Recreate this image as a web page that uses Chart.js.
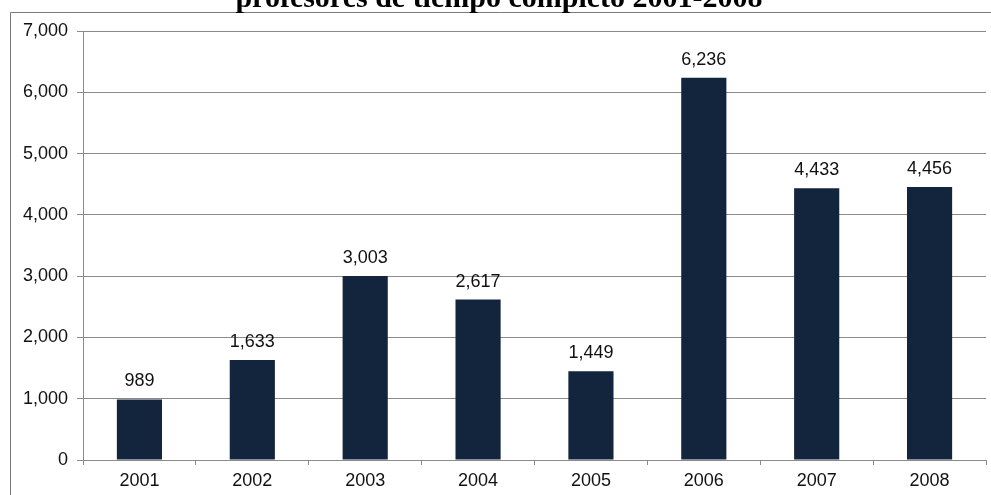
<!DOCTYPE html>
<html>
<head>
<meta charset="utf-8">
<script src="https://cdn.jsdelivr.net/npm/chart.js@4"></script>
<style>
  html, body { margin:0; padding:0; background:#fff; }
  #wrap { position:relative; width:991px; height:495px; }
</style>
</head>
<body>
<div id="wrap"><canvas id="chart" width="991" height="495"></canvas></div>
<script>
// data
const years  = ['2001','2002','2003','2004','2005','2006','2007','2008'];
const values = [989, 1633, 3003, 2617, 1449, 6236, 4433, 4456];
const title  = 'profesores de tiempo completo 2001-2008';

const fmt = v => v.toLocaleString('en-US');

// frame + cut-off title
const framePlugin = {
  id: 'frame',
  beforeDraw(chart) {
    const c = chart.ctx;
    c.save();
    c.fillStyle = '#fff';
    c.fillRect(0, 0, chart.width, chart.height);
    c.strokeStyle = '#7a7a7a';
    c.lineWidth = 1;
    c.beginPath();
    c.moveTo(10.5, chart.height);
    c.lineTo(10.5, 12.5);
    c.lineTo(chart.width, 12.5);
    c.stroke();
    c.fillStyle = '#000';
    c.font = 'bold 30px "Liberation Serif", "DejaVu Serif", serif';
    c.textAlign = 'center';
    c.textBaseline = 'alphabetic';
    c.fillText(title, 499, 7);
    c.restore();
  }
};

// value labels on top of the bars
const valueLabels = {
  id: 'valueLabels',
  afterDatasetsDraw(chart) {
    const c = chart.ctx;
    const meta = chart.getDatasetMeta(0);
    c.save();
    c.fillStyle = '#111';
    c.font = '18px "Liberation Sans", Arial, sans-serif';
    c.textAlign = 'center';
    c.textBaseline = 'alphabetic';
    meta.data.forEach((bar, i) => {
      c.fillText(fmt(values[i]), bar.x, bar.y - 13);
    });
    c.restore();
  }
};

new Chart(document.getElementById('chart').getContext('2d'), {
  type: 'bar',
  data: {
    labels: years,
    datasets: [{
      data: values,
      backgroundColor: '#13243d',
      borderWidth: 0,
      barPercentage: 0.4,
      categoryPercentage: 1
    }]
  },
  options: {
    responsive: false,
    animation: false,
    layout: { padding: { top: 31, right: 5, left: 0, bottom: 0 } },
    plugins: { legend: { display: false }, tooltip: { enabled: false } },
    scales: {
      x: {
        afterFit: s => { s.height = 35; },
        grid: { drawOnChartArea: false, color: '#8a8a8a', tickLength: 5, offset: true },
        border: { color: '#8a8a8a' },
        ticks: { color: '#111', padding: 5, font: { family: '"Liberation Sans", Arial, sans-serif', size: 18 } }
      },
      y: {
        min: 0, max: 7000,
        afterFit: s => { s.width = 83; },
        grid: { color: '#8a8a8a', tickLength: 6 },
        border: { color: '#8a8a8a' },
        ticks: {
          stepSize: 1000, color: '#111', padding: 9,
          font: { family: '"Liberation Sans", Arial, sans-serif', size: 18 },
          callback: v => fmt(v)
        }
      }
    }
  },
  plugins: [framePlugin, valueLabels]
});
</script>
</body>
</html>
